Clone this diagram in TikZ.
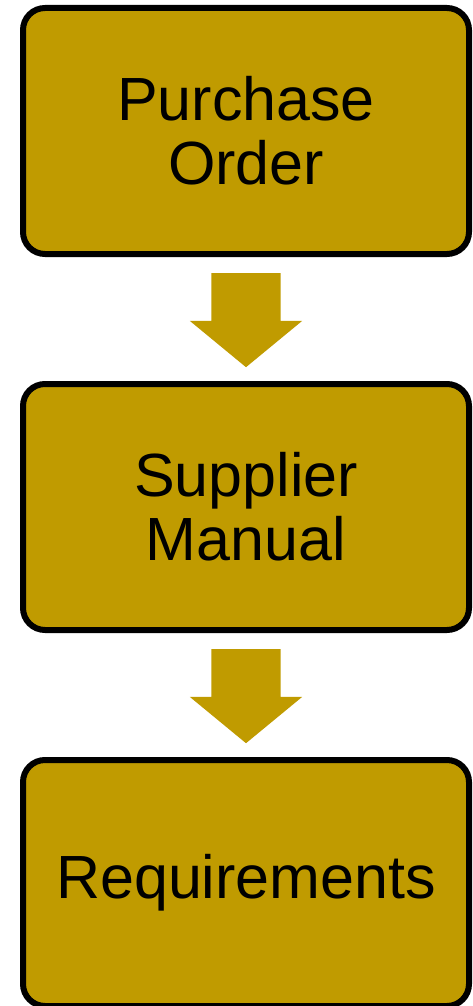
\documentclass[tikz,border=0pt]{standalone}
\usepackage{fontspec}
\setmainfont{Liberation Sans}
\usetikzlibrary{positioning,shapes.arrows}
\definecolor{gold}{RGB}{192,155,0}
\tikzset{
	box/.style={draw, fill=gold, line width=6pt, rounded corners=22pt, minimum width=446pt, minimum height=246pt, align=center, font=\fontsize{61}{64}\selectfont},
	downarrow/.style={single arrow, fill=gold, rotate=-90, anchor=tail, inner xsep=0pt, inner ysep=34.5pt, minimum height=94pt, single arrow head extend=21.5pt, single arrow head indent=0pt, single arrow tip angle=101}
}
\begin{document}
\begin{tikzpicture}[x=1pt, y=1pt, line join=round]
		\useasboundingbox (0,0) rectangle (473,-1006);
		\node[box] (po) at (246,-131) {Purchase\\Order};
		\node[box, below=124pt of po] (sm) {Supplier\\Manual};
		\node[box, below=124pt of sm] (req) {Requirements};
		\node[downarrow] (a1) at ([yshift=-16pt]po.south) {};
		\node[downarrow] (a2) at ([yshift=-16pt]sm.south) {};
	\end{tikzpicture}
\end{document}
